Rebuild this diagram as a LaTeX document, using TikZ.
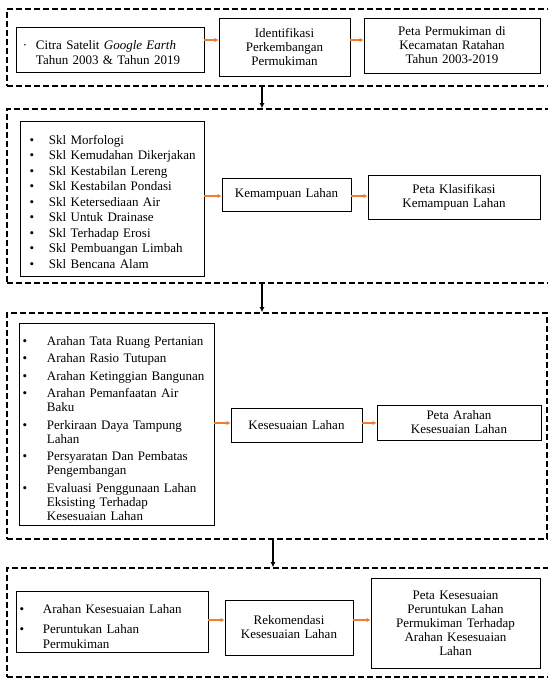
\documentclass[tikz,border=0pt]{standalone}
\usepackage{fontspec}
\setmainfont{Liberation Serif}
\usepackage{tikz}
\usetikzlibrary{arrows.meta}

\definecolor{arroworange}{RGB}{237,125,49}
\newlength{\bulpos}
\newlength{\bultext}
\newcommand{\bul}[2][\textbullet]{\par\hangindent=\bultext\hangafter=1\noindent\makebox[\bultext][l]{\hspace{\bulpos}#1}#2\par}

\tikzset{
  frame/.style={draw, dash pattern=on 6pt off 3pt, line width=1.6pt, inner sep=0pt},
  box/.style={draw, line width=0.8pt, inner sep=0pt, align=center, font=\fontsize{13}{14}\selectfont},
  listbox/.style={box, align=left, font=\fontsize{13}{15.5}\selectfont},
  link/.style={arroworange, line width=1.4pt, -{Latex[length=4pt,width=4.5pt]}},
  flow/.style={line width=1.5pt, -{Latex[length=5pt,width=5pt]}}
}

\begin{document}
\begin{tikzpicture}[x=1pt,y=-1pt]
  \useasboundingbox (0,0) rectangle (548,680);
  % dashed sections
  \node[frame, minimum width=545pt, minimum height=77pt] (sec1) at (279.5,47.5) {};
  \node[frame, minimum width=545pt, minimum height=174pt] (sec2) at (279.5,196) {};
  \node[frame, minimum width=540pt, minimum height=226pt] (sec3) at (277,426) {};
  \node[frame, minimum width=545pt, minimum height=109pt] (sec4) at (279.5,622.5) {};

  % section 1
  \node[listbox, text width=188pt, minimum height=45pt] (satelit) at (110,49.5)
    {\setlength\bulpos{7pt}\setlength\bultext{20pt}%
     \bul[·]{Citra Satelit \textit{Google Earth}\newline Tahun 2003 \& Tahun 2019}};
  \node[box, text width=131pt, minimum height=58pt] (ident) at (284.5,47)
    {Identifikasi\\Perkembangan\\Permukiman};
  \node[box, text width=176pt, minimum height=55pt] (petapmk) at (452,45.5)
    {Peta Permukiman di\\Kecamatan Ratahan\\Tahun 2003-2019};
  \draw[link] ([yshift=9.5pt]satelit.east) -- ([yshift=9.5pt]satelit.east -| ident.west);
  \draw[link] ([yshift=7pt]ident.east) -- ([yshift=7pt]ident.east -| petapmk.west);

  % section 2
  \node[listbox, text width=184pt, minimum height=155pt] (skl) at (112,198.5)
    {\setlength\bulpos{9.7pt}\setlength\bultext{29pt}%
     \bul{Skl Morfologi}
     \bul{Skl Kemudahan Dikerjakan}
     \bul{Skl Kestabilan Lereng}
     \bul{Skl Kestabilan Pondasi}
     \bul{Skl Ketersediaan Air}
     \bul{Skl Untuk Drainase}
     \bul{Skl Terhadap Erosi}
     \bul{Skl Pembuangan Limbah}
     \bul{Skl Bencana Alam}};
  \node[box, text width=129pt, minimum height=33pt] (kemampuan) at (286.5,194.5)
    {Kemampuan Lahan};
  \node[box, text width=172pt, minimum height=44pt] (klasifikasi) at (454,197)
    {Peta Klasifikasi\\Kemampuan Lahan};
  \draw[link] ([yshift=2.5pt]skl.east) -- ([yshift=2.5pt]skl.east -| kemampuan.west);
  \draw[link] ([yshift=-1.5pt]kemampuan.east) -- ([yshift=-1.5pt]kemampuan.east -| klasifikasi.west);

  % section 3
  \node[listbox, text width=195pt, minimum height=202pt] (arahan) at (116.5,424)
    {\fontsize{13}{14}\selectfont\setlength\parskip{3.5pt}%
     \setlength\bulpos{3.7pt}\setlength\bultext{28pt}%
     \bul{Arahan Tata Ruang Pertanian}
     \bul{Arahan Rasio Tutupan}
     \bul{Arahan Ketinggian Bangunan}
     \bul{Arahan Pemanfaatan Air\newline Baku}
     \bul{Perkiraan Daya Tampung\newline Lahan}
     \bul{Persyaratan Dan Pembatas\newline Pengembangan}
     \bul{Evaluasi Penggunaan Lahan\newline Eksisting Terhadap\newline Kesesuaian Lahan}};
  \node[box, text width=131pt, minimum height=34pt] (kesesuaian) at (296.5,425)
    {Kesesuaian Lahan};
  \node[box, text width=164pt, minimum height=35pt] (petaarahan) at (459,422.5)
    {Peta Arahan\\Kesesuaian Lahan};
  \draw[link] ([yshift=1pt]arahan.east) -- ([yshift=1pt]arahan.east -| kesesuaian.west);
  \draw[link] ([yshift=2pt]kesesuaian.east) -- ([yshift=2pt]kesesuaian.east -| petaarahan.west);

  % section 4
  \node[listbox, text width=192pt, minimum height=61pt] (peruntukan) at (112,621.5)
    {\fontsize{13}{15}\selectfont\setlength\parskip{5pt}%
     \setlength\bulpos{3.7pt}\setlength\bultext{27pt}%
     \bul{Arahan Kesesuaian Lahan}
     \bul{Peruntukan Lahan\newline Permukiman}};
  \node[box, text width=128pt, minimum height=55pt] (rekomendasi) at (289,627.5)
    {Rekomendasi\\Kesesuaian Lahan};
  \node[box, text width=169pt, minimum height=90pt] (petasesuai) at (455.5,623)
    {Peta Kesesuaian\\Peruntukan Lahan\\Permukiman Terhadap\\Arahan Kesesuaian\\Lahan};
  \draw[link] ([yshift=1.5pt]peruntukan.east) -- ([yshift=1.5pt]peruntukan.east -| rekomendasi.west);
  \draw[link] ([yshift=7.5pt]rekomendasi.east) -- ([yshift=7.5pt]rekomendasi.east -| petasesuai.west);

  % between sections
  \draw[flow] ([xshift=-17.5pt]sec1.south) -- ([xshift=-17.5pt]sec1.south |- sec2.north);
  \draw[flow] ([xshift=-17.5pt]sec2.south) -- ([xshift=-17.5pt]sec2.south |- sec3.north);
  \draw[flow] ([xshift=-4pt]sec3.south) -- ([xshift=-4pt]sec3.south |- sec4.north);
\end{tikzpicture}
\end{document}
